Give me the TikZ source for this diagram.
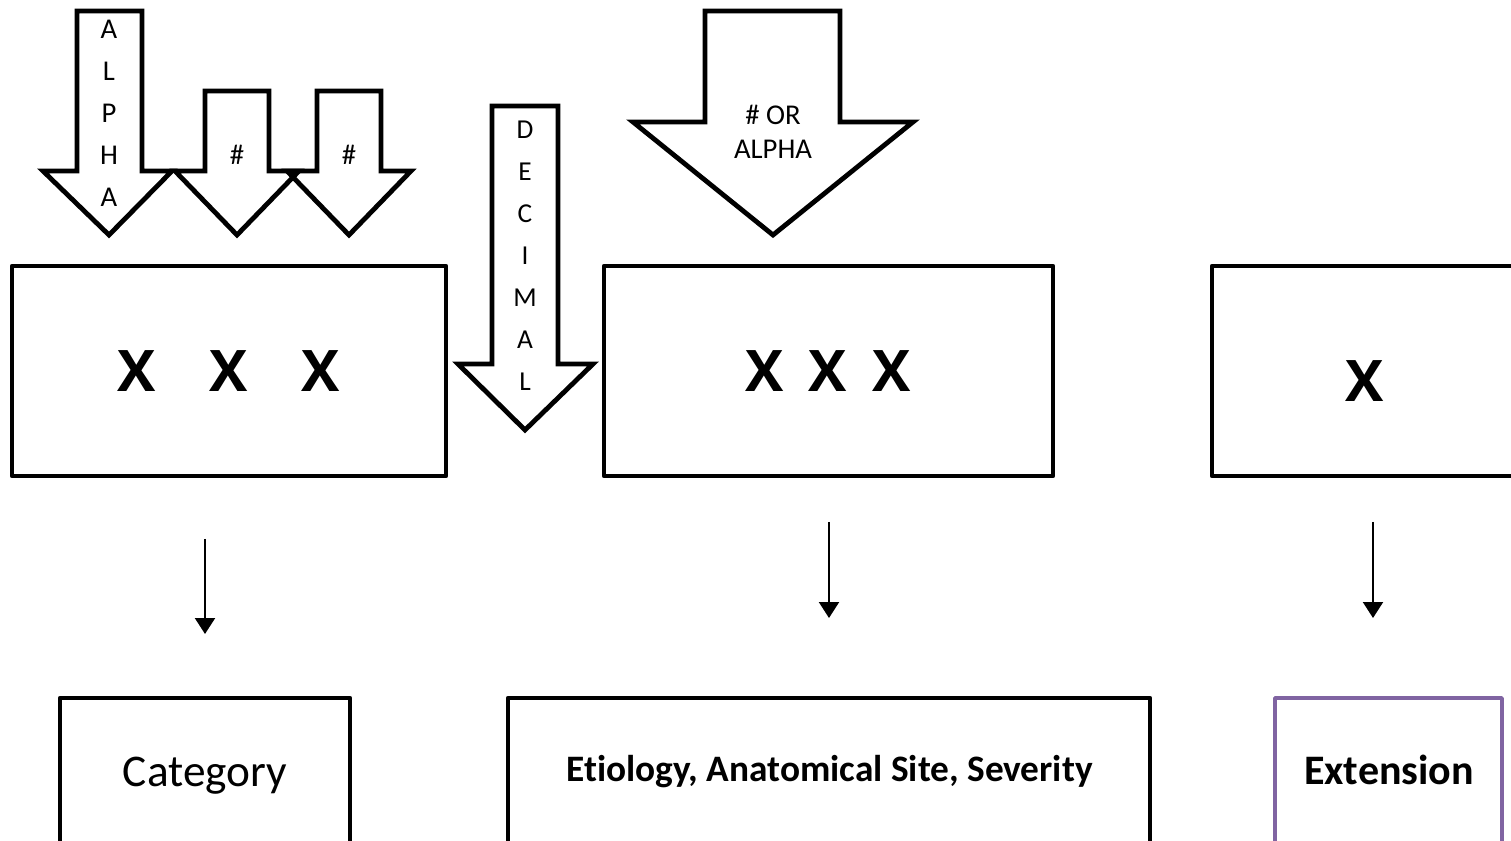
\documentclass[tikz,border=0pt]{standalone}
\usepackage{fontspec}
\setmainfont{Carlito}[Ligatures=NoCommon]
\newfontfamily\xfont{Open Sans}
\usetikzlibrary{arrows.meta}
\definecolor{extpurple}{RGB}{128,100,162}
\tikzset{
  blockarrow/.style={draw=black, line width=3.6pt, line join=miter},
  codebox/.style={draw=black, line width=3.3pt, rectangle, inner sep=0pt, line join=round},
  labelbox/.style={draw=black, line width=3.3pt, rectangle, inner sep=0pt, line join=round},
  extbox/.style={draw=extpurple, line width=2.6pt, rectangle, inner sep=0pt, line join=round},
  arrowtext/.style={align=center, inner sep=0pt, font=\fontsize{21.5}{31.5}\selectfont},
  bigx/.style={anchor=base, inner sep=0pt, font=\xfont\bfseries\fontsize{43}{50}\selectfont},
  labeltext/.style={anchor=base, inner sep=0pt},
  flow/.style={line width=1.6pt, -{Triangle[width=15pt,length=12pt]}}
}
\begin{document}
\begin{tikzpicture}[x=0.75pt,y=-0.75pt]
\useasboundingbox (0,0) rectangle (1511,841);

% block arrows
\draw[blockarrow] (77,11) -- (142,11) -- (142,171) -- (172,171) -- (109,235) -- (43,171) -- (77,171) -- cycle;
\draw[blockarrow] (205,91) -- (269,91) -- (269,171) -- (299,171) -- (237,235) -- (175,171) -- (205,171) -- cycle;
\draw[blockarrow] (317,91) -- (381,91) -- (381,171) -- (411,171) -- (349,235) -- (287,171) -- (317,171) -- cycle;
\draw[blockarrow] (492,106) -- (558,106) -- (558,364) -- (593,364) -- (525,430) -- (458,364) -- (492,364) -- cycle;
\draw[blockarrow] (705,11) -- (840,11) -- (840,122) -- (913,122) -- (773,235) -- (633,122) -- (705,122) -- cycle;

\node[arrowtext] (alpha) at (109,113) {A\\L\\P\\H\\A};
\node[arrowtext] (hash1) at (237,155) {\#};
\node[arrowtext] (hash2) at (349,155) {\#};
\node[arrowtext, font=\fontsize{20.5}{31.5}\selectfont] (decimal) at (525,256) {D\\E\\C\\I\\M\\A\\L};
\node[arrowtext, font=\fontsize{21.5}{25.5}\selectfont] (hashor) at (773,132) {\# OR\\ALPHA};

% code boxes
\node[codebox, minimum width=325.5pt, minimum height=157.5pt] (box1) at (229,371) {};
\node[codebox, minimum width=336.75pt, minimum height=157.5pt] (box2) at (828.5,371) {};
\node[codebox, minimum width=229.5pt, minimum height=157.5pt] (box3) at (1365,371) {};

\node[bigx] (x11) at (137,392) {X};
\node[bigx] (x12) at (229,392) {X};
\node[bigx] (x13) at (321,392) {X};
\node[bigx] (x21) at (765,392) {X};
\node[bigx] (x22) at (828,392) {X};
\node[bigx] (x23) at (892,392) {X};
\node[bigx] (x31) at (1365,402) {X};

% label boxes
\node[labelbox, minimum width=217.5pt, minimum height=111pt] (cat) at (205,772) {};
\node[labelbox, minimum width=481.5pt, minimum height=111pt] (eti) at (829,772) {};
\node[extbox, minimum width=170.25pt, minimum height=111pt] (ext) at (1388.5,772) {};

\node[labeltext, font=\fontsize{34}{40}\selectfont] (cattext) at (205,786) {Category};
\node[labeltext, font=\bfseries\fontsize{28}{33}\selectfont] (etitext) at (829.5,781) {Etiology, Anatomical Site, Severity};
\node[labeltext, font=\bfseries\fontsize{31.5}{38}\selectfont] (exttext) at (1389,784) {Extension};

% connectors
\coordinate (c1a) at (205,539);
\coordinate (c1b) at (205,634);
\coordinate (c2a) at (829,522);
\coordinate (c2b) at (829,618);
\coordinate (c3a) at (1373,522);
\coordinate (c3b) at (1373,618);
\draw[flow] (c1a) -- (c1b);
\draw[flow] (c2a) -- (c2b);
\draw[flow] (c3a) -- (c3b);
\end{tikzpicture}
\end{document}
